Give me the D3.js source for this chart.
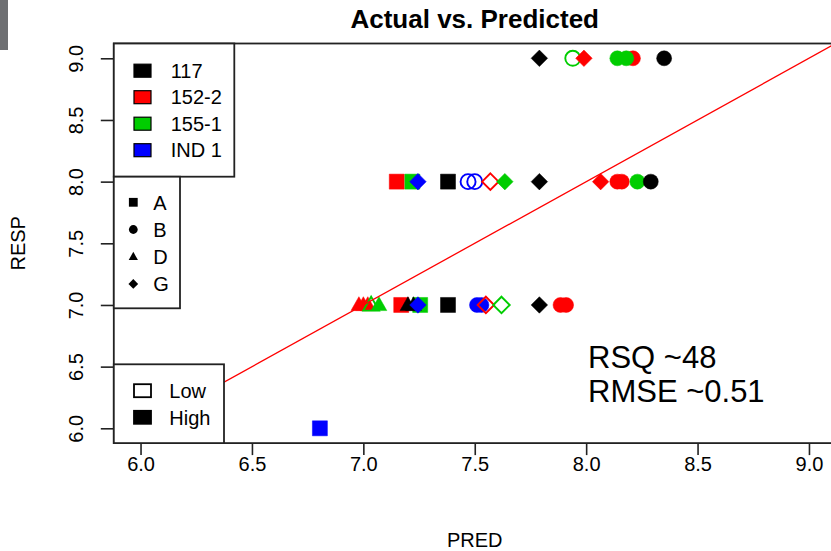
<!DOCTYPE html>
<html>
<head>
<meta charset="utf-8">
<script src="https://cdn.jsdelivr.net/npm/d3@7"></script>
<style>
  body { margin: 0; background: #fff; }
  svg { display: block; }
  text { font-family: "Liberation Sans", Arial, sans-serif; fill: #000; }
</style>
</head>
<body>
<svg id="chart" width="831" height="551"></svg>
<script>
// legend categories
const groups = ["117", "152-2", "155-1", "IND 1"];
const groupColors = ["#000000", "#ff0000", "#00cd00", "#0000ff"];
const types = ["A", "B", "D", "G"];
const levels = ["Low", "High"];
const ticks = [6.0, 6.5, 7.0, 7.5, 8.0, 8.5, 9.0];

// points, in drawing order
const pred = [7.79, 7.94, 7.99, 8.21, 8.14, 8.18, 8.35,
  7.15, 7.22, 7.245, 7.38, 7.47, 7.5, 7.57, 7.635, 7.79, 8.065, 8.14, 8.16, 8.23, 8.29,
  7.255, 6.98, 7.0, 7.02, 7.035, 7.07, 7.17, 7.2, 7.225, 7.245, 7.38, 7.51, 7.53, 7.55, 7.62, 7.79, 7.885, 7.91,
  6.805];
const resp = [9, 9, 9, 9, 9, 9, 9,
  8, 8, 8, 8, 8, 8, 8, 8, 8, 8, 8, 8, 8, 8,
  7, 7, 7, 7, 7, 7, 7, 7, 7, 7, 7, 7, 7, 7, 7, 7, 7, 7,
  6];
const grp = ["117", "155-1", "152-2", "152-2", "155-1", "155-1", "117",
  "152-2", "155-1", "IND 1", "117", "IND 1", "IND 1", "152-2", "155-1", "117", "152-2", "152-2", "152-2", "155-1", "117",
  "155-1", "152-2", "152-2", "152-2", "155-1", "155-1", "152-2", "117", "117", "IND 1", "117", "IND 1", "IND 1", "152-2", "155-1", "117", "152-2", "152-2",
  "IND 1"];
const typ = ["G", "B", "G", "B", "B", "B", "B",
  "A", "A", "G", "A", "B", "B", "G", "G", "G", "G", "B", "B", "B", "B",
  "A", "D", "D", "D", "D", "D", "A", "D", "D", "G", "A", "B", "B", "G", "G", "G", "B", "B",
  "A"];
const lvl = ["High", "Low", "High", "High", "High", "High", "High",
  "High", "High", "High", "High", "Low", "Low", "Low", "High", "High", "High", "High", "High", "High", "High",
  "High", "High", "High", "High", "Low", "High", "High", "High", "High", "High", "High", "High", "High", "Low", "Low", "High", "High", "High",
  "High"];

const data = pred.map((p, i) => ({ pred: p, resp: resp[i], grp: grp[i], typ: typ[i], lvl: lvl[i] }));

const svg = d3.select("#chart");

// plot region (right edge runs off the picture)
const x = d3.scaleLinear().domain([5.88, 9.12]).range([113.8, 835.7]);
const y = d3.scaleLinear().domain([5.88, 9.12]).range([443.1, 43.5]);
const color = d3.scaleOrdinal().domain(groups).range(groupColors);

// marker path for a shape, r = half size
function shapePath(t, r) {
  if (t === "A") return `M${-r},${-r}H${r}V${r}H${-r}Z`;
  if (t === "B") return `M${-r},0A${r},${r} 0 1 0 ${r},0A${r},${r} 0 1 0 ${-r},0Z`;
  if (t === "D") return `M0,${-r * 1.1}L${r * 1.05},${r * 0.75}H${-r * 1.05}Z`;
  return `M0,${-r * 1.1}L${r * 1.1},0L0,${r * 1.1}L${-r * 1.1},0Z`;
}

// gray strip in the corner
svg.append("rect").attr("x", 0).attr("y", 0).attr("width", 8).attr("height", 50).attr("fill", "#6e6f72");

svg.append("defs").append("clipPath").attr("id", "plot-clip")
  .append("rect").attr("x", 113.8).attr("y", 43.5).attr("width", 721.9).attr("height", 399.6);

// points
svg.append("g").selectAll("path")
  .data(data)
  .join("path")
  .attr("transform", (d) => `translate(${x(d.pred)},${y(d.resp)})`)
  .attr("d", (d) => shapePath(d.typ, 7.5))
  .attr("fill", (d) => (d.lvl === "Low" ? "none" : color(d.grp)))
  .attr("stroke", (d) => color(d.grp))
  .attr("stroke-width", (d) => (d.lvl === "Low" ? 1.9 : 0.5));

// y = x reference line
svg.append("line")
  .attr("clip-path", "url(#plot-clip)")
  .attr("x1", x(5.88)).attr("y1", y(5.88))
  .attr("x2", x(9.12)).attr("y2", y(9.12))
  .attr("stroke", "#ff0000").attr("stroke-width", 1.3);

// axes
const xAxis = d3.axisBottom(x).tickValues(ticks).tickFormat(d3.format(".1f")).tickSize(12).tickPadding(2);
const gx = svg.append("g").attr("transform", "translate(0,443.1)").call(xAxis);
gx.select(".domain").remove();
gx.selectAll("line").attr("stroke", "#222").attr("stroke-width", 1.6);
gx.selectAll("text").attr("font-size", 20).attr("font-family", "Liberation Sans, Arial, sans-serif");

const yAxis = d3.axisLeft(y).tickValues(ticks).tickFormat(d3.format(".1f")).tickSize(13);
const gy = svg.append("g").attr("transform", "translate(113.8,0)").call(yAxis);
gy.select(".domain").remove();
gy.selectAll("line").attr("stroke", "#222").attr("stroke-width", 1.6);
gy.selectAll("text")
  .attr("font-size", 20).attr("font-family", "Liberation Sans, Arial, sans-serif")
  .attr("transform", "rotate(-90)")
  .attr("x", 0).attr("y", -30.5).attr("dy", 0)
  .attr("text-anchor", "middle");

// plot box
svg.append("rect")
  .attr("x", 113.8).attr("y", 43.5).attr("width", 721.9).attr("height", 399.6)
  .attr("fill", "none").attr("stroke", "#222").attr("stroke-width", 1.8);

// titles
svg.append("text").attr("x", 474.75).attr("y", 28.3).attr("text-anchor", "middle")
  .attr("font-size", 26).attr("font-weight", "bold").text("Actual vs. Predicted");
svg.append("text").attr("x", 474.75).attr("y", 546.5).attr("text-anchor", "middle")
  .attr("font-size", 20).text("PRED");
svg.append("text").attr("transform", "translate(25,243.3) rotate(-90)").attr("text-anchor", "middle")
  .attr("font-size", 20).text("RESP");

// legend: groups
const leg1 = svg.append("g");
leg1.append("rect").attr("x", 113.8).attr("y", 43.5).attr("width", 120.5).attr("height", 133.2)
  .attr("fill", "#fff").attr("stroke", "#222").attr("stroke-width", 1.8);
leg1.selectAll(".item").data(groups).join("g")
  .attr("class", "item")
  .attr("transform", (d, i) => `translate(0,${70.7 + i * 26.5})`)
  .call((g) => {
    g.append("rect").attr("x", 134).attr("y", -6.5).attr("width", 17).attr("height", 13)
      .attr("fill", (d) => color(d)).attr("stroke", "#000").attr("stroke-width", 1.2);
    g.append("text").attr("x", 170.7).attr("y", 7.2).attr("font-size", 20).text((d) => d);
  });

// legend: types
const leg2 = svg.append("g");
leg2.append("rect").attr("x", 113.8).attr("y", 176.7).attr("width", 66.2).attr("height", 131.6)
  .attr("fill", "#fff").attr("stroke", "#222").attr("stroke-width", 1.8);
leg2.selectAll(".item").data(types).join("g")
  .attr("class", "item")
  .attr("transform", (d, i) => `translate(0,${202.3 + i * 27.2})`)
  .call((g) => {
    g.append("path").attr("transform", "translate(133.3,0)")
      .attr("d", (d) => shapePath(d, 4.4)).attr("fill", "#000");
    g.append("text").attr("x", 153.3).attr("y", 7.2).attr("font-size", 20).text((d) => d);
  });

// legend: levels
const leg3 = svg.append("g");
leg3.append("rect").attr("x", 113.8).attr("y", 364.3).attr("width", 110.2).attr("height", 78.8)
  .attr("fill", "#fff").attr("stroke", "#222").attr("stroke-width", 1.8);
leg3.selectAll(".item").data(levels).join("g")
  .attr("class", "item")
  .attr("transform", (d, i) => `translate(0,${390.7 + i * 26.6})`)
  .call((g) => {
    g.append("rect").attr("x", 134).attr("y", -6.5).attr("width", 17).attr("height", 13)
      .attr("fill", (d) => (d === "Low" ? "#fff" : "#000")).attr("stroke", "#000").attr("stroke-width", 1.8);
    g.append("text").attr("x", 169.3).attr("y", 7.2).attr("font-size", 20).text((d) => d);
  });

// fit notes
svg.append("text").attr("x", 588).attr("y", 368.3).attr("font-family", "Lato, sans-serif")
  .attr("font-size", 31).text("RSQ ~48");
svg.append("text").attr("x", 588).attr("y", 401.7).attr("font-family", "Lato, sans-serif")
  .attr("font-size", 31).text("RMSE ~0.51");
</script>
</body>
</html>
